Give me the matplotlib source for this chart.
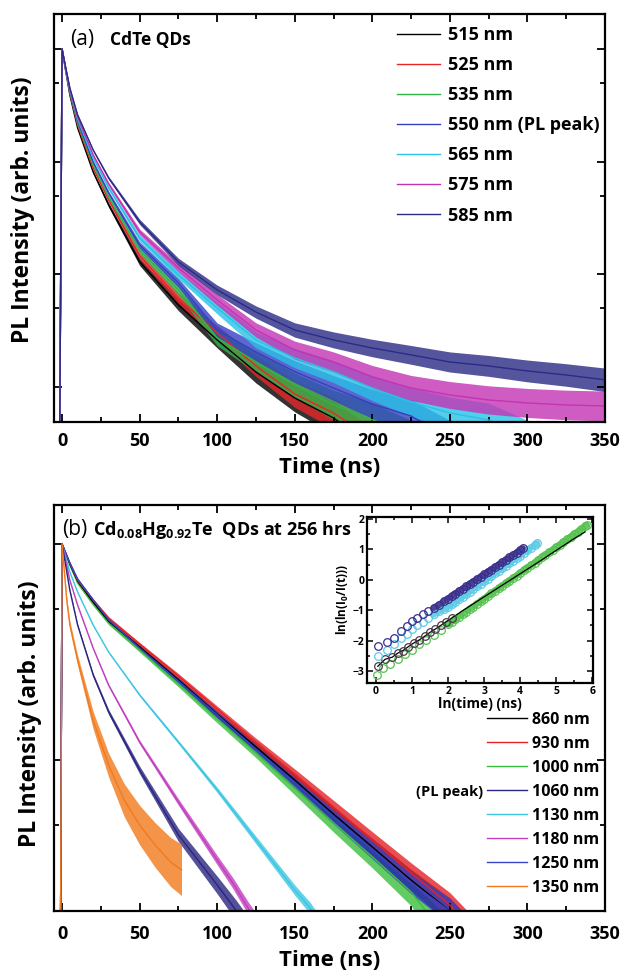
import numpy as np
import matplotlib.pyplot as plt
from matplotlib.lines import Line2D
from matplotlib.ticker import FixedLocator, NullFormatter, MultipleLocator

plt.rcParams['font.family'] = ['Open Sans', 'DejaVu Sans']
plt.rcParams['font.weight'] = 'bold'
plt.rcParams['mathtext.fontset'] = 'custom'
plt.rcParams['mathtext.rm'] = 'Open Sans:bold'
plt.rcParams['mathtext.it'] = 'Open Sans:bold'
plt.rcParams['mathtext.bf'] = 'Open Sans:bold'

nan = np.nan

# ---- (a) CdTe QDs: normalised PL decay
# (last value of a short trace is where it drops below the plotted range)
t_a = [-1.5, 0, 2, 5, 10, 20, 30, 50, 75, 100, 125, 150, 175, 200, 225, 250, 275, 300, 325, 350]
i_515 = [4e-4, 1, .678, .391, .199, .0810, .0413, .0129, .00535, .00262, .00136, .00080, .000532,
         3e-4, nan, nan, nan, nan, nan, nan]
i_525 = [4e-4, 1, .692, .407, .212, .0879, .0457, .0146, .00617, .00302, .00154, .000869, .000589,
         3.5e-4, nan, nan, nan, nan, nan, nan]
i_535 = [4e-4, 1, .692, .415, .221, .0935, .0486, .0164, .00727, .00273, .00167, .00104, .000694,
         .000511, 3.5e-4, nan, nan, nan, nan, nan]
i_550 = [4e-4, 1, .707, .424, .230, .0994, .0527, .0182, .00839, .00320, .00205, .00137, .00098,
         .000707, .000554, 3.5e-4, nan, nan, nan, nan]
i_565 = [4e-4, 1, .707, .433, .239, .108, .0585, .0210, .00988, .00503, .00262, .00181, .00137,
         .00098, .000737, .000589, .000511, 3.5e-4, nan, nan]
i_575 = [4e-4, 1, .721, .442, .249, .115, .0634, .0238, .0114, .00593, .00321, .00213, .00167,
         .00123, .000982, .000851, .000769, .000723, .000694, .000680]
i_585 = [4e-4, 1, .721, .451, .260, .127, .0717, .0292, .0129, .00727, .00463, .00321, .00262,
         .00222, .00193, .00167, .00154, .00139, .00128, .00116]
lbl_a = ["515 nm", "525 nm", "535 nm", "550 nm (PL peak)", "565 nm", "575 nm", "585 nm"]
col_a = ["#000000", "#e8262a", "#2fb54a", "#3340c0", "#28c2e6", "#c433b4", "#2b2a86"]
# noise half-width (decades) against log10 intensity, estimated from the traces
lvl_a = [-4, -3.3, -3, -2.52, -2, -1, 0]
wid_a = [0.2, 0.15, 0.11, 0.065, 0.035, 0.01, 0.004]

# ---- (b) Cd0.08Hg0.92Te QDs at 256 hrs
t_860 = [-1, 0, 5, 10, 20, 30, 50, 75, 100, 125, 150, 175, 200, 225, 250, 265]
i_860 = [0.015, 1, .808, .674, .539, .440, .334, .235, .163, .115, .0808, .0562, .0396, .0278, .0200, .015]
t_930 = [-1, 0, 5, 10, 20, 30, 50, 75, 100, 125, 150, 175, 200, 225, 250, 265]
i_930 = [0.015, 1, .817, .681, .551, .454, .344, .245, .172, .121, .0861, .0606, .0426, .0300, .0213, .016]
t_1000 = [-1, 0, 5, 10, 20, 30, 50, 75, 100, 125, 150, 175, 200, 225, 245]
i_1000 = [0.015, 1, .799, .660, .527, .431, .323, .225, .155, .108, .0742, .0511, .0356, .0245, .016]
t_1060 = [-1, 0, 5, 10, 20, 30, 50, 75, 100, 112, 124]
i_1060 = [0.015, 1, .612, .422, .248, .167, .0899, .0450, .0264, .0202, .015]
t_1130 = [-1, 0, 5, 10, 20, 30, 50, 75, 100, 125, 150, 160, 170]
i_1130 = [0.015, 1, .742, .600, .422, .316, .200, .121, .0727, .0426, .0250, .0206, .016]
t_1180 = [-1, 0, 5, 10, 20, 30, 50, 75, 100, 110, 120, 130]
i_1180 = [0.015, 1, .681, .522, .330, .222, .121, .0639, .0344, .0270, .0206, .016]
t_1250 = [-1, 0, 5, 10, 20, 30, 50, 75, 100, 125, 150, 175, 200, 225, 250, 265]
i_1250 = [0.015, 1, .817, .689, .551, .445, .330, .232, .162, .112, .0783, .0545, .0383, .0270, .0200, .015]
t_1350 = [-1, 0, 3, 5, 10, 20, 30, 40, 50, 60, 70, 77]
i_1350 = [0.015, 1, .550, .422, .290, .153, .0948, .0653, .0500, .0404, .0337, .0310]
lbl_b = ["860 nm", "930 nm", "1000 nm", "1060 nm", "1130 nm", "1180 nm", "1250 nm", "1350 nm"]
col_b = ["#000000", "#e42228", "#3cbf3c", "#2a2580", "#3cc6e2", "#c23ec0", "#3444c4", "#f27a1c"]
noise_b = [1, 1, 1.2, 0.8, 0.45, 0.5, 1, 2.6]
lvl_b = [-2, -1.7, -1.5, -1.3, -1, -0.5, 0]
wid_b = [0.09, 0.06, 0.045, 0.035, 0.02, 0.008, 0.004]

# ---- inset: ln(ln(I0/I(t))) vs ln(t)
x_1060 = [0.06, 0.3, 0.5, 0.7, 0.85, 1.0, 1.15, 1.3, 1.45, 1.6, 1.75, 1.9,
          2.0, 2.1, 2.2, 2.3, 2.4, 2.5, 2.6, 2.7, 2.8, 2.9, 3.0, 3.1, 3.2, 3.3, 3.4,
          3.5, 3.6, 3.7, 3.8, 3.9, 4.0, 4.07]
y_1060 = [-2.18, -2.05, -1.92, -1.68, -1.52, -1.36, -1.26, -1.14, -1.03, -0.92, -0.82, -0.70,
          -0.62, -0.54, -0.46, -0.38, -0.30, -0.22, -0.14, -0.06, 0.02, 0.10, 0.18, 0.26, 0.34, 0.42,
          0.50, 0.58, 0.66, 0.74, 0.82, 0.90, 0.98, 1.04]
x_1130 = [0.05, 0.3, 0.5, 0.7, 0.85, 1.0, 1.15, 1.3, 1.45, 1.6, 1.75, 1.9,
          2.0, 2.1, 2.2, 2.3, 2.4, 2.5, 2.6, 2.7, 2.8, 2.9, 3.0, 3.1, 3.2, 3.3, 3.4,
          3.5, 3.6, 3.7, 3.8, 3.9, 4.0, 4.1, 4.2, 4.3, 4.4, 4.47]
y_1130 = [-2.5, -2.32, -2.12, -1.92, -1.78, -1.62, -1.5, -1.38, -1.26, -1.14, -1.04, -0.96,
          -0.90, -0.81, -0.73, -0.64, -0.56, -0.47, -0.39, -0.30, -0.22, -0.13, -0.05, 0.04, 0.12,
          0.21, 0.29, 0.38, 0.46, 0.55, 0.63, 0.72, 0.80, 0.89, 0.97, 1.06, 1.14, 1.20]
x_860 = [0.05, 0.25, 0.45, 0.6, 0.75, 0.9, 1.05, 1.2, 1.35, 1.5, 1.65, 1.8, 1.95, 2.1,
         2.4, 2.7, 3.0, 3.5, 4.0, 4.5, 5.0, 5.5, 5.8]
y_860 = [-2.85, -2.62, -2.55, -2.42, -2.33, -2.2, -2.08, -1.98, -1.86, -1.73, -1.62, -1.5, -1.38, -1.26,
         -1.02, -0.79, -0.56, -0.18, 0.2, 0.58, 0.97, 1.36, 1.58]
x_1000 = [0.02, 0.2, 0.4, 0.6, 0.8, 1.0, 1.2, 1.4, 1.6, 1.8, 2.0, 2.1, 2.2, 2.3, 2.4, 2.5, 2.6, 2.7,
          2.8, 2.9, 3.0, 3.1, 3.2, 3.3, 3.4, 3.5, 3.6, 3.7, 3.8, 3.9, 4.0, 4.1, 4.2, 4.3, 4.4, 4.5,
          4.6, 4.7, 4.8, 4.9, 5.0, 5.1, 5.2, 5.3, 5.4, 5.5, 5.6, 5.7, 5.8, 5.85]
y_1000 = [-3.12, -2.92, -2.78, -2.6, -2.45, -2.3, -2.12, -1.97, -1.82, -1.64, -1.47, -1.39, -1.30,
          -1.22, -1.13, -1.05, -0.96, -0.88, -0.79, -0.71, -0.62, -0.54, -0.45, -0.37, -0.28, -0.20,
          -0.11, -0.03, 0.06, 0.14, 0.23, 0.31, 0.40, 0.48, 0.57, 0.65, 0.74, 0.82, 0.91, 0.99, 1.08,
          1.16, 1.25, 1.33, 1.42, 1.50, 1.59, 1.67, 1.76, 1.80]


def trace(ax, t, i, color, lvl, wid, scale=1.0):
    t = np.asarray(t, float)
    i = np.asarray(i, float)
    ok = ~np.isnan(i)
    t, i = t[ok], i[ok]
    w = np.interp(np.log10(i), lvl, wid) * scale
    ax.fill_between(t, i * 10 ** -w, i * 10 ** w, color=color, lw=0, alpha=0.8)
    ax.plot(t, i, color=color, lw=1.0)


def frame(ax, ymaj, ymin, xpad):
    ax.set_yscale('log')
    ax.set_xlim(-5.2, 350)
    ax.set_xticks(range(0, 351, 50))
    ax.xaxis.set_minor_locator(MultipleLocator(25))
    ax.yaxis.set_major_locator(FixedLocator(ymaj))
    ax.yaxis.set_minor_locator(FixedLocator(ymin))
    ax.yaxis.set_major_formatter(NullFormatter())
    ax.yaxis.set_minor_formatter(NullFormatter())
    ax.tick_params(which='both', direction='in', top=True, right=True, width=1.3)
    ax.tick_params(which='major', length=6)
    ax.tick_params(which='minor', length=3.5)
    ax.tick_params(axis='x', labelsize=13, pad=xpad)
    for s in ax.spines.values():
        s.set_linewidth(1.6)
    ax.set_xlabel("Time (ns)", fontsize=16, fontweight='bold')
    ax.set_ylabel("PL Intensity (arb. units)", fontsize=16.5, fontweight='bold')


fig = plt.figure(figsize=(6.22, 9.73), dpi=100)
ax1 = fig.add_axes([54 / 622, 1 - 422 / 973, 551 / 622, 408 / 973])
ax2 = fig.add_axes([54 / 622, 1 - 911 / 973, 551 / 622, 406 / 973])
ins = fig.add_axes([367 / 622, 1 - 683 / 973, 226 / 622, 166 / 973])

# panel (a)
curves_a = [i_515, i_525, i_535, i_550, i_565, i_575, i_585]
for k in range(7):
    trace(ax1, t_a, curves_a[k], col_a[k], lvl_a, wid_a)
frame(ax1, [1e-3, 1e-2, 1e-1, 1], [5e-3, 5e-2, 0.5], 7)
ax1.set_ylim(4.9e-4, 2.04)
ax1.xaxis.set_label_coords(0.5, -0.086)
ax1.yaxis.set_label_coords(-0.034, 0.52)
ax1.text(0.029, 0.924, "(a)", transform=ax1.transAxes, fontsize=15, fontweight='normal', va='baseline')
ax1.text(0.1016, 0.924, "CdTe QDs", transform=ax1.transAxes, fontsize=12.5, va='baseline')
ha = [Line2D([], [], color=c, lw=1.0) for c in col_a]
ax1.legend(ha, lbl_a, loc='upper left', bbox_to_anchor=(0.6225, 0.9706), frameon=False,
           borderpad=0, borderaxespad=0, handlelength=2.4, handletextpad=0.4,
           labelspacing=0.67, prop={'weight': 'bold', 'size': 13})

# panel (b)
tb = [t_860, t_930, t_1000, t_1060, t_1130, t_1180, t_1250, t_1350]
ib = [i_860, i_930, i_1000, i_1060, i_1130, i_1180, i_1250, i_1350]
for k in [2, 0, 1, 6, 4, 5, 3, 7]:
    trace(ax2, tb[k], ib[k], col_b[k], lvl_b, wid_b, noise_b[k])
frame(ax2, [1e-1, 1], [5e-2, 0.5], 10)
ax2.set_ylim(0.02, 1.516)
ax2.xaxis.set_label_coords(0.5, -0.097)
ax2.yaxis.set_label_coords(-0.022, 0.485)
ax2.text(0.0145, 0.926, "(b)", transform=ax2.transAxes, fontsize=15, fontweight='normal', va='baseline')
ax2.text(0.0708, 0.926, r"Cd$_{0.08}$Hg$_{0.92}$Te  QDs at 256 hrs", transform=ax2.transAxes,
         fontsize=13, va='baseline')
hb = [Line2D([], [], color=c, lw=1.0) for c in col_b]
ax2.legend(hb, lbl_b, loc='upper left', bbox_to_anchor=(0.786, 0.490), frameon=False,
           borderpad=0, borderaxespad=0, handlelength=2.5, handletextpad=0.3,
           labelspacing=0.5, prop={'weight': 'bold', 'size': 11.5})
ax2.text(0.7786, 0.293, "(PL peak)", transform=ax2.transAxes, fontsize=10.5, ha='right', va='center')

# inset: open circles; late points overlap into a solid band
mk = dict(ls='none', marker='o', mfc='none', ms=5.5, mew=0.9)
ins.plot(x_1000[10:], y_1000[10:], color="#55c24f", lw=4.5, alpha=0.9, solid_capstyle='round')
ins.plot(x_1000, y_1000, color="#55c24f", **mk)
ins.plot(x_860, y_860, color="#000000", lw=0.9)
ins.plot(x_860[:14], y_860[:14], color="#4a3a4a", **mk)
ins.plot(x_1130[9:], y_1130[9:], color="#5ccbe6", lw=4.5, alpha=0.9, solid_capstyle='round')
ins.plot(x_1130, y_1130, color="#5ccbe6", **mk)
ins.plot(x_1060[9:], y_1060[9:], color="#3b2f8c", lw=4.5, alpha=0.9, solid_capstyle='round')
ins.plot(x_1060, y_1060, color="#3b2f8c", **mk)
ins.set_xlim(-0.25, 6.02)
ins.set_ylim(-3.4, 2.07)
ins.xaxis.set_major_locator(MultipleLocator(1))
ins.xaxis.set_minor_locator(MultipleLocator(0.5))
ins.yaxis.set_major_locator(MultipleLocator(1))
ins.yaxis.set_minor_locator(MultipleLocator(0.5))
ins.tick_params(which='both', direction='in', top=True, right=True, width=1.1, labelsize=7.5, pad=2)
ins.tick_params(which='major', length=4)
ins.tick_params(which='minor', length=2.5)
for lab in ins.get_xticklabels() + ins.get_yticklabels():
    lab.set_fontweight('bold')
for s in ins.spines.values():
    s.set_linewidth(1.6)
ins.set_xlabel("ln(time) (ns)", fontsize=10, fontweight='bold', labelpad=0)
ins.set_ylabel(r"ln(ln(I$_0$/I(t)))", fontsize=8.5, fontweight='bold', labelpad=1)

fig.savefig("out.png", dpi=100)
